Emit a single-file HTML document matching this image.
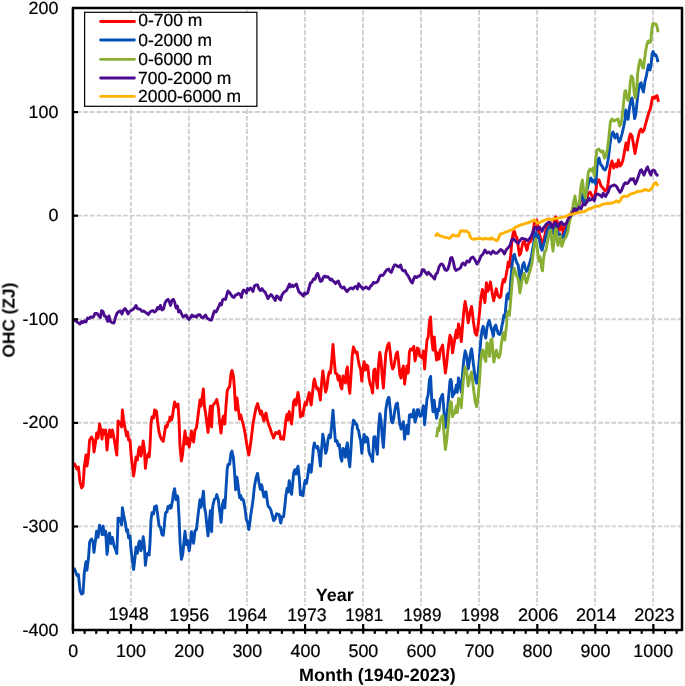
<!DOCTYPE html>
<html><head><meta charset="utf-8"><title>OHC</title>
<style>
html,body{margin:0;padding:0;background:#fff;}
body{width:685px;height:686px;overflow:hidden;font-family:"Liberation Sans",sans-serif;}
svg{display:block}
text{font-family:"Liberation Sans",sans-serif;fill:#000;text-rendering:geometricPrecision}
.tx{filter:grayscale(1)}
.r{stroke:#000;stroke-width:.22px}
.t{font-size:16.3px}
.b{font-size:15.6px;font-weight:bold}
.ser{fill:none;stroke-width:2.9;stroke-linejoin:round;stroke-linecap:butt}
</style></head><body>
<svg width="685" height="686" viewBox="0 0 685 686">
<rect width="685" height="686" fill="#fff"/>
<g stroke="#d0d0d0" stroke-width="1.9" stroke-dasharray="4.8 1.8" fill="none">
<line x1="130.84" y1="8.1" x2="130.84" y2="630.0" stroke-dashoffset="4.4"/>
<line x1="188.87" y1="8.1" x2="188.87" y2="630.0" stroke-dashoffset="4.4"/>
<line x1="246.91" y1="8.1" x2="246.91" y2="630.0" stroke-dashoffset="4.4"/>
<line x1="304.94" y1="8.1" x2="304.94" y2="630.0" stroke-dashoffset="4.4"/>
<line x1="362.98" y1="8.1" x2="362.98" y2="630.0" stroke-dashoffset="4.4"/>
<line x1="421.01" y1="8.1" x2="421.01" y2="630.0" stroke-dashoffset="4.4"/>
<line x1="479.05" y1="8.1" x2="479.05" y2="630.0" stroke-dashoffset="4.4"/>
<line x1="537.08" y1="8.1" x2="537.08" y2="630.0" stroke-dashoffset="4.4"/>
<line x1="595.12" y1="8.1" x2="595.12" y2="630.0" stroke-dashoffset="4.4"/>
<line x1="653.15" y1="8.1" x2="653.15" y2="630.0" stroke-dashoffset="4.4"/>
<line x1="72.9" y1="112.00" x2="682.0" y2="112.00" stroke-dashoffset="2.7"/>
<line x1="72.9" y1="215.60" x2="682.0" y2="215.60" stroke-dashoffset="2.7"/>
<line x1="72.9" y1="319.20" x2="682.0" y2="319.20" stroke-dashoffset="2.7"/>
<line x1="72.9" y1="422.80" x2="682.0" y2="422.80" stroke-dashoffset="2.7"/>
<line x1="72.9" y1="526.40" x2="682.0" y2="526.40" stroke-dashoffset="2.7"/>
</g>
<rect x="100" y="605.8" width="581" height="18" fill="#fff"/>
<path class="ser" stroke="#ff0000" d="M74.0 463.0 L77.0 469.0 L78.4 467.0 L80.0 482.0 L81.6 488.0 L83.0 486.0 L84.4 466.0 L86.0 455.0 L87.0 466.0 L88.4 456.0 L89.6 440.0 L91.6 437.0 L93.0 440.0 L94.0 452.0 L95.6 442.0 L96.6 433.0 L98.0 438.0 L99.6 424.0 L101.0 430.0 L102.0 439.0 L103.0 430.0 L104.4 434.0 L105.6 430.0 L107.0 450.0 L108.4 436.0 L109.6 430.0 L111.0 437.0 L112.4 430.0 L114.0 438.0 L115.6 448.0 L116.8 455.0 L117.6 436.0 L118.0 421.0 L120.0 423.0 L121.6 427.0 L122.4 410.0 L123.6 420.0 L125.0 428.0 L126.6 436.0 L127.6 432.0 L128.6 440.0 L130.0 440.0 L131.0 454.0 L132.4 466.0 L133.6 476.0 L135.0 466.0 L136.0 457.0 L137.4 460.0 L138.6 450.0 L139.6 447.0 L141.0 456.0 L142.4 448.0 L143.2 441.0 L144.4 450.0 L145.4 468.4 L146.6 458.0 L148.0 454.0 L149.2 457.0 L150.0 446.0 L151.0 424.0 L152.0 417.0 L153.6 418.0 L154.6 410.0 L156.4 411.0 L157.6 422.0 L159.0 432.0 L160.4 437.0 L162.0 440.0 L163.2 441.4 L164.4 434.0 L165.6 426.0 L167.0 427.0 L168.0 422.4 L169.4 421.0 L170.0 417.0 L171.4 420.0 L172.4 417.0 L173.6 408.0 L174.6 402.0 L176.0 407.0 L177.0 406.0 L178.0 404.0 L179.0 420.0 L180.0 446.0 L181.4 461.0 L182.6 454.0 L184.0 440.0 L185.0 431.0 L186.4 444.0 L187.6 438.0 L189.2 447.0 L190.6 439.0 L191.4 431.0 L192.6 438.0 L193.6 442.0 L195.0 430.0 L196.4 428.0 L198.0 416.0 L200.0 400.0 L201.0 406.0 L202.0 399.0 L203.4 389.0 L204.4 406.0 L205.6 413.0 L207.0 424.0 L208.0 432.4 L209.4 416.0 L210.4 406.0 L211.6 427.0 L212.6 406.0 L214.0 404.0 L215.6 402.0 L216.8 399.4 L218.4 408.0 L219.6 422.0 L221.0 433.0 L222.4 420.0 L223.6 416.0 L224.8 424.0 L226.0 406.0 L227.2 391.0 L228.4 388.0 L229.6 387.0 L231.0 374.0 L232.0 370.4 L233.4 376.0 L234.4 388.0 L235.6 410.0 L237.0 398.0 L238.4 410.0 L239.6 419.0 L240.8 415.0 L242.0 420.0 L243.6 426.0 L245.2 434.0 L246.4 442.0 L247.6 449.0 L248.8 455.0 L250.0 448.0 L251.6 436.0 L253.0 424.0 L254.4 416.0 L256.0 408.0 L257.6 403.6 L259.0 409.0 L260.4 414.0 L261.6 411.0 L262.8 417.0 L264.0 421.0 L265.2 415.0 L266.0 413.0 L267.2 419.0 L268.4 424.0 L270.0 428.0 L271.6 433.0 L273.6 438.0 L275.6 432.4 L277.6 433.6 L279.2 431.0 L280.8 439.0 L282.0 437.0 L283.6 439.4 L284.8 430.0 L286.0 419.0 L287.0 414.4 L288.0 420.0 L289.2 411.4 L290.4 419.0 L291.6 424.0 L292.6 414.0 L293.6 402.0 L294.8 399.6 L296.0 405.0 L297.0 398.0 L298.0 392.4 L299.2 400.0 L300.4 417.0 L301.6 413.0 L302.8 415.6 L304.0 408.0 L305.2 402.4 L306.4 405.0 L307.6 399.0 L309.2 392.6 L310.4 400.0 L311.2 405.0 L312.4 394.0 L313.6 383.0 L314.4 379.0 L315.6 384.0 L316.8 389.0 L318.0 388.0 L319.2 393.0 L320.4 400.0 L321.6 383.0 L322.8 371.0 L324.0 380.0 L325.6 392.0 L326.8 388.0 L328.0 378.0 L329.2 372.0 L330.4 373.0 L331.6 362.0 L333.0 344.4 L334.2 360.0 L335.4 373.0 L337.0 374.0 L338.2 380.0 L339.4 376.0 L340.6 386.0 L341.8 389.0 L343.0 376.0 L344.2 378.0 L345.4 383.0 L346.6 370.0 L347.4 367.0 L348.6 384.0 L349.8 393.4 L351.0 376.0 L352.2 356.0 L353.4 347.0 L354.6 350.0 L355.8 353.0 L357.0 352.0 L358.2 360.0 L359.4 366.0 L360.6 369.0 L361.8 381.0 L363.0 368.0 L364.2 361.6 L365.4 370.0 L366.6 365.0 L367.8 366.0 L369.0 378.0 L370.2 384.0 L371.4 387.0 L372.6 393.0 L373.8 370.0 L375.0 369.0 L376.2 380.0 L377.4 388.0 L378.6 364.0 L379.8 352.4 L381.0 360.0 L382.2 376.0 L383.4 388.0 L384.6 370.0 L385.8 354.0 L387.4 346.0 L389.0 343.0 L390.2 352.0 L391.4 364.0 L392.6 369.0 L393.8 367.0 L395.0 360.0 L396.2 354.0 L397.4 352.0 L398.6 362.0 L399.8 374.0 L401.0 378.0 L402.2 370.0 L403.4 366.0 L404.6 384.0 L405.8 374.0 L407.0 366.0 L408.2 373.0 L409.4 352.0 L410.6 349.0 L411.8 350.0 L413.0 348.0 L413.8 346.4 L415.0 361.0 L416.2 356.0 L417.4 348.0 L418.6 349.0 L419.8 356.0 L421.0 357.0 L422.2 358.0 L423.4 351.0 L424.6 369.0 L425.8 354.0 L427.0 340.0 L428.2 337.0 L429.4 322.0 L430.6 317.0 L431.8 340.0 L433.0 350.0 L434.2 337.0 L435.4 350.0 L436.6 360.0 L437.8 353.0 L439.0 359.0 L440.2 350.0 L441.4 348.0 L442.6 345.0 L443.8 358.0 L445.4 373.0 L446.6 364.0 L447.8 352.0 L449.0 342.0 L450.0 335.3 L451.3 338.4 L452.5 352.9 L453.8 345.3 L455.0 337.8 L456.3 330.3 L457.3 337.8 L458.5 324.0 L459.8 329.0 L461.3 341.6 L462.6 325.2 L463.8 311.4 L465.1 301.4 L466.3 307.7 L468.2 322.7 L470.1 311.4 L471.6 306.4 L473.2 320.2 L475.1 332.8 L476.6 335.3 L478.2 325.2 L479.5 312.7 L480.8 298.9 L482.4 289.5 L483.6 296.4 L484.9 302.6 L486.4 282.6 L487.7 291.3 L488.9 288.8 L490.4 281.9 L492.1 292.6 L493.7 300.8 L495.2 293.9 L496.2 288.8 L497.7 295.1 L499.6 297.6 L500.8 296.4 L502.1 285.1 L503.4 279.4 L504.6 281.9 L505.9 276.3 L507.1 270.0 L508.2 262.1 L509.4 266.5 L510.7 255.2 L511.9 241.4 L513.2 232.6 L514.5 231.4 L515.7 236.4 L517.0 237.6 L518.2 246.4 L519.5 255.2 L520.7 253.3 L522.0 246.4 L523.2 242.0 L524.5 241.4 L525.8 246.4 L527.0 250.2 L528.3 243.9 L529.5 242.0 L530.8 241.4 L532.0 237.6 L533.3 230.1 L534.5 222.6 L535.8 220.7 L536.7 220.1 L537.7 226.3 L538.9 232.0 L540.2 236.4 L541.5 242.7 L542.7 246.4 L544.0 238.9 L545.2 233.9 L546.5 227.0 L547.7 224.5 L549.0 222.6 L550.2 224.5 L551.5 227.0 L552.8 227.6 L554.0 222.6 L555.0 217.6 L555.9 216.9 L557.1 221.3 L558.4 227.6 L559.7 230.1 L560.9 226.3 L562.2 227.6 L563.4 234.5 L564.7 228.9 L565.9 225.1 L567.2 222.6 L568.4 218.8 L569.7 216.3 L570.0 216.0 L572.0 211.0 L574.0 209.0 L576.0 211.0 L578.0 208.0 L580.0 202.0 L582.0 198.0 L584.0 204.0 L586.0 200.0 L588.0 194.0 L590.0 192.0 L592.0 196.0 L594.0 199.0 L596.0 190.0 L597.0 180.0 L599.0 180.0 L601.0 186.0 L603.0 188.0 L605.0 191.0 L607.0 189.0 L608.0 184.0 L609.0 176.0 L610.4 166.0 L612.0 161.0 L613.6 168.0 L615.6 164.0 L617.0 167.0 L618.4 160.0 L620.0 166.0 L621.6 164.0 L623.0 160.0 L624.4 152.0 L626.0 143.0 L627.6 150.0 L629.0 139.0 L630.4 134.0 L632.0 136.0 L633.6 145.0 L635.0 153.6 L636.4 146.0 L638.0 138.0 L639.6 131.0 L641.0 129.0 L642.4 132.0 L644.0 130.0 L645.6 124.0 L647.0 119.0 L648.4 114.0 L649.6 110.4 L650.3 108.8 L651.6 102.6 L652.4 97.5 L653.7 96.9 L654.8 98.3 L656.0 96.3 L657.0 95.6 L657.8 98.8 L658.5 101.9"/>
<path class="ser" stroke="#044eb6" d="M74.0 567.7 L76.0 572.7 L77.0 575.5 L78.0 574.9 L78.4 574.6 L80.0 590.7 L81.6 594.1 L83.0 593.3 L84.4 571.7 L86.0 561.7 L87.0 570.2 L87.6 564.4 L88.4 559.0 L89.0 551.3 L89.6 542.6 L90.4 540.5 L91.6 539.0 L92.0 540.0 L93.0 541.6 L93.6 548.5 L94.0 552.4 L95.0 543.8 L95.6 540.1 L96.6 531.1 L97.0 532.5 L98.0 537.4 L99.0 530.0 L99.6 525.3 L100.4 529.5 L101.0 528.7 L101.6 530.7 L102.0 534.5 L103.0 526.1 L104.4 534.7 L105.6 531.2 L106.0 537.0 L107.0 554.3 L107.6 550.1 L108.4 539.0 L109.0 533.7 L109.6 533.0 L110.4 540.1 L111.0 543.5 L112.0 539.3 L112.4 537.4 L114.0 545.7 L115.6 549.7 L116.8 553.6 L117.0 548.3 L117.6 533.5 L118.0 518.1 L119.0 518.1 L120.0 518.8 L120.4 519.7 L121.6 525.0 L122.0 517.2 L122.4 507.7 L123.6 514.7 L125.0 521.3 L126.6 531.3 L127.6 529.7 L128.0 533.9 L128.6 537.7 L129.6 536.1 L130.0 535.9 L131.0 549.3 L132.4 560.5 L133.0 565.1 L133.6 569.5 L134.4 563.0 L135.0 557.7 L136.0 547.1 L137.4 553.3 L138.6 543.6 L139.0 542.5 L139.6 540.9 L140.4 546.2 L141.0 550.8 L142.0 546.4 L142.4 544.0 L143.2 536.8 L143.6 539.7 L144.4 546.3 L145.0 557.7 L145.4 565.3 L146.6 555.7 L148.0 552.9 L148.4 554.3 L149.2 555.0 L150.0 542.7 L151.0 520.1 L151.6 515.5 L152.0 512.6 L153.0 512.9 L153.6 513.9 L154.4 508.3 L154.6 506.6 L156.0 506.5 L156.4 505.8 L157.6 514.1 L159.0 525.7 L160.4 527.1 L162.0 534.7 L163.2 535.3 L163.6 532.6 L164.4 524.3 L165.0 517.7 L165.6 512.7 L166.4 511.9 L167.0 511.9 L168.0 506.5 L169.4 507.7 L170.0 505.4 L170.6 508.4 L171.4 507.0 L172.0 502.9 L172.4 501.5 L173.4 493.6 L173.6 492.5 L174.6 488.7 L176.0 499.7 L177.0 497.3 L177.4 495.9 L178.0 497.7 L178.6 510.3 L179.0 516.3 L180.0 541.3 L181.4 559.3 L181.6 558.5 L182.6 554.8 L183.0 551.7 L184.0 541.0 L184.4 537.1 L185.0 531.3 L186.0 540.0 L186.4 544.5 L187.6 540.7 L189.0 550.0 L189.2 550.8 L190.6 541.1 L191.4 531.7 L192.0 534.2 L192.6 538.3 L193.6 543.3 L195.0 530.7 L196.4 529.7 L198.0 515.7 L199.6 502.5 L200.0 499.7 L201.0 507.2 L201.6 503.9 L202.0 501.3 L203.0 494.6 L203.4 491.1 L204.4 506.7 L205.6 512.7 L207.0 526.7 L208.0 535.8 L208.4 531.4 L209.4 520.3 L210.0 514.7 L210.4 510.7 L211.6 531.7 L212.6 507.1 L213.0 505.1 L214.0 500.8 L214.4 499.2 L215.6 498.4 L216.0 497.8 L216.8 494.6 L217.6 497.4 L218.4 500.0 L219.0 505.7 L219.6 511.1 L220.0 513.2 L221.0 522.2 L221.4 519.0 L222.4 505.5 L222.6 504.0 L223.6 500.0 L224.0 502.4 L224.8 507.9 L225.6 496.1 L226.0 488.6 L227.0 472.2 L227.2 469.1 L228.0 464.7 L228.4 464.1 L229.6 464.3 L231.0 453.3 L232.0 451.1 L232.4 453.3 L233.4 457.8 L234.0 465.3 L234.4 469.5 L235.6 489.7 L237.0 477.3 L238.4 488.1 L239.6 497.5 L240.0 496.4 L240.8 495.6 L241.4 499.6 L242.0 499.4 L242.6 498.9 L243.6 500.7 L245.0 508.7 L245.2 510.0 L246.4 519.7 L247.6 522.3 L248.8 529.5 L249.0 528.5 L250.0 521.3 L250.4 517.7 L251.6 509.7 L253.0 500.1 L254.4 486.7 L256.0 477.7 L257.6 473.3 L259.0 482.7 L260.4 489.3 L261.6 484.8 L262.0 486.3 L262.8 491.5 L263.6 495.4 L264.0 497.0 L265.0 492.7 L265.2 492.1 L266.0 491.8 L266.4 494.7 L267.2 500.5 L268.0 505.6 L268.4 506.7 L269.6 507.7 L270.0 508.3 L271.0 510.4 L271.6 512.9 L272.4 515.7 L273.6 520.7 L274.0 520.2 L275.2 518.8 L275.6 516.4 L276.6 513.7 L277.6 514.7 L278.0 514.2 L279.2 514.4 L279.4 515.7 L280.6 522.7 L280.8 523.0 L282.0 516.7 L283.6 516.7 L284.8 506.3 L285.0 504.3 L286.0 494.5 L286.4 492.5 L287.0 488.5 L288.0 492.1 L289.2 480.6 L289.4 481.4 L290.4 490.2 L290.6 491.5 L291.6 494.3 L292.0 489.7 L292.6 484.4 L293.4 475.7 L293.6 473.2 L294.8 469.8 L295.0 470.6 L296.0 474.1 L296.4 470.9 L297.0 468.7 L297.6 467.3 L298.0 466.2 L299.0 475.4 L299.2 476.8 L300.4 494.7 L301.6 491.9 L302.0 493.2 L302.8 495.7 L303.4 492.5 L304.0 487.2 L304.6 482.9 L305.2 480.5 L306.0 482.8 L306.4 483.4 L307.6 476.7 L309.0 466.1 L309.2 464.6 L310.4 467.7 L311.2 472.2 L312.0 464.4 L312.4 459.8 L313.4 448.5 L313.6 446.7 L314.4 442.9 L315.0 445.6 L315.6 446.2 L316.4 447.0 L316.8 448.2 L317.6 446.4 L318.0 447.1 L319.0 453.9 L319.2 455.3 L320.4 466.1 L321.6 448.5 L322.0 444.3 L322.8 434.2 L323.4 437.2 L324.0 441.2 L324.6 445.2 L325.6 453.4 L326.0 452.4 L326.8 449.5 L327.6 442.6 L328.0 439.7 L329.0 435.7 L329.2 435.0 L330.4 437.7 L331.6 425.7 L333.0 410.1 L334.2 426.6 L334.4 428.9 L335.4 441.3 L337.0 440.7 L338.2 445.8 L338.4 445.0 L339.4 444.5 L339.6 446.8 L340.6 457.0 L341.0 458.7 L341.8 461.2 L342.6 453.0 L343.0 448.4 L344.0 449.4 L344.2 450.1 L345.4 457.3 L346.6 445.8 L347.0 444.8 L347.4 442.8 L348.6 458.3 L349.8 466.7 L350.0 463.6 L351.0 448.8 L351.4 442.0 L352.2 429.2 L353.0 423.7 L353.4 420.1 L354.4 421.2 L354.6 421.6 L355.8 424.2 L356.0 423.9 L357.0 425.0 L357.4 428.4 L358.2 430.1 L358.6 430.3 L359.4 435.7 L360.0 438.2 L360.6 440.1 L361.4 448.7 L361.8 453.2 L363.0 441.7 L364.2 434.4 L364.4 435.7 L365.4 442.1 L366.0 439.2 L366.6 437.1 L367.4 438.4 L367.8 438.9 L369.0 451.7 L370.2 455.4 L370.6 455.7 L371.4 457.1 L372.0 459.7 L372.6 461.6 L373.4 444.8 L373.8 437.2 L375.0 436.7 L376.2 447.2 L376.6 449.8 L377.4 454.3 L378.0 441.7 L378.6 428.0 L379.4 418.0 L379.8 413.6 L381.0 419.7 L382.2 436.2 L382.6 440.3 L383.4 447.4 L384.0 437.7 L384.6 427.7 L385.4 415.6 L385.8 409.8 L387.0 402.3 L387.4 400.2 L388.6 397.4 L389.0 397.4 L390.0 406.8 L390.2 408.4 L391.4 421.1 L392.6 422.8 L393.0 421.0 L393.8 418.0 L394.4 413.2 L395.0 409.7 L396.0 404.7 L396.2 403.9 L397.4 403.1 L398.6 413.6 L399.0 417.7 L399.8 424.7 L400.6 426.4 L401.0 429.0 L402.0 425.6 L402.2 424.5 L403.4 421.7 L404.6 439.2 L405.0 435.8 L405.8 430.9 L406.4 428.3 L407.0 425.1 L408.0 432.1 L408.2 433.7 L409.4 415.1 L410.6 414.5 L411.0 415.6 L411.8 417.1 L412.4 416.7 L413.0 413.7 L413.6 410.5 L413.8 409.7 L415.0 422.1 L416.2 418.0 L416.6 415.6 L417.4 409.6 L418.0 409.6 L418.6 409.9 L419.4 414.4 L419.8 416.3 L421.0 416.1 L422.2 413.0 L422.4 411.1 L423.4 405.6 L424.0 414.7 L424.6 424.7 L425.4 416.1 L425.8 411.6 L427.0 399.1 L428.2 394.4 L428.4 391.6 L429.4 380.1 L430.0 378.2 L430.6 376.4 L431.4 392.6 L431.8 400.7 L433.0 411.7 L434.2 400.2 L434.6 405.0 L435.4 410.8 L436.0 413.7 L436.6 418.3 L437.4 413.0 L437.8 409.2 L439.0 410.7 L440.2 399.7 L440.6 398.4 L441.4 396.9 L442.0 395.2 L442.6 394.4 L443.4 404.0 L443.8 409.3 L445.0 423.6 L445.4 427.5 L446.6 419.1 L447.8 405.9 L448.0 404.0 L449.0 392.1 L449.4 388.0 L450.0 381.0 L450.6 379.4 L451.3 380.9 L452.0 389.2 L452.5 396.8 L453.4 394.3 L453.8 394.0 L454.6 393.0 L455.0 391.2 L456.0 387.1 L456.3 385.2 L457.3 392.2 L457.4 391.0 L458.5 377.9 L459.0 379.6 L459.8 382.0 L460.6 388.0 L461.3 392.1 L462.0 381.5 L462.6 373.3 L463.0 368.3 L463.8 359.9 L465.0 351.9 L465.1 350.9 L466.3 354.8 L467.0 358.9 L468.2 369.0 L469.0 364.6 L470.1 355.9 L471.0 351.1 L471.6 348.8 L473.0 360.2 L473.2 362.2 L475.0 376.8 L475.1 377.7 L476.6 383.2 L477.0 381.5 L478.2 372.1 L479.0 363.2 L479.5 357.2 L480.7 341.3 L482.0 330.0 L483.2 326.3 L484.5 333.8 L485.8 338.2 L487.0 327.5 L488.3 322.5 L489.3 320.6 L490.1 323.8 L491.0 327.5 L492.0 330.7 L493.3 336.3 L494.5 327.5 L495.8 325.0 L497.1 330.0 L498.3 333.8 L499.6 334.4 L500.8 332.6 L502.1 325.0 L503.1 320.6 L503.8 315.3 L504.8 317.2 L505.7 307.8 L506.9 295.2 L508.2 293.4 L509.4 299.0 L510.7 281.4 L511.9 266.4 L513.2 256.3 L514.5 254.4 L515.7 259.5 L517.0 263.2 L518.2 265.1 L519.5 275.8 L520.4 280.8 L521.4 272.6 L522.6 265.1 L523.9 262.6 L525.1 267.6 L526.4 271.4 L527.6 270.1 L528.9 265.1 L530.2 261.3 L531.4 256.3 L532.7 248.8 L533.9 242.5 L534.5 235.1 L535.8 232.6 L537.1 237.6 L538.3 235.1 L539.6 240.2 L540.8 247.7 L542.1 250.2 L543.3 245.2 L544.6 241.4 L545.8 236.4 L547.1 231.4 L548.4 227.6 L549.6 226.3 L550.9 228.2 L552.1 232.0 L553.4 233.9 L554.6 228.9 L555.9 226.3 L557.1 230.1 L558.4 234.5 L559.7 233.9 L560.9 236.4 L562.2 237.6 L563.4 237.0 L564.7 232.6 L565.9 230.1 L567.2 227.0 L568.4 222.6 L569.7 218.8 L571.0 215.7 L573.0 210.0 L575.0 208.0 L577.0 211.0 L579.0 204.0 L581.0 198.0 L582.4 194.0 L584.0 202.0 L586.0 194.0 L588.0 186.0 L589.6 179.0 L591.0 178.0 L592.4 182.0 L594.0 180.0 L595.6 184.0 L596.4 176.0 L597.6 160.0 L599.0 158.0 L600.4 164.0 L602.0 166.0 L603.6 169.0 L605.2 170.0 L607.0 166.0 L608.4 158.0 L610.0 144.0 L611.6 134.0 L613.0 132.0 L615.0 138.0 L617.0 134.0 L619.0 142.0 L620.4 140.0 L622.0 134.0 L623.6 127.0 L625.0 120.0 L625.7 110.0 L626.9 114.3 L628.1 119.4 L629.5 107.5 L631.2 98.9 L632.1 98.1 L633.2 105.8 L634.6 118.6 L635.8 114.3 L637.2 100.6 L638.4 90.4 L639.7 84.4 L641.1 82.7 L642.3 88.7 L643.5 92.1 L644.9 81.9 L646.2 76.7 L647.4 69.9 L648.6 64.8 L650.0 69.9 L651.2 63.9 L652.0 54.5 L653.1 51.5 L654.3 55.4 L655.5 54.5 L656.8 57.1 L658.0 62.2"/>
<path class="ser" stroke="#88ae34" d="M436.6 437.3 L437.4 431.5 L437.8 428.1 L439.0 430.7 L440.2 420.2 L440.6 419.0 L441.4 417.7 L442.0 416.2 L442.6 415.6 L443.4 425.5 L443.8 430.9 L445.0 445.5 L445.4 449.5 L446.6 441.4 L447.8 428.5 L448.0 426.7 L449.0 415.1 L449.4 410.8 L450.0 403.6 L450.6 401.8 L451.3 402.1 L452.0 409.4 L452.5 416.7 L453.4 413.9 L453.8 413.9 L454.6 413.5 L455.0 411.8 L456.0 407.9 L456.3 405.9 L457.3 412.5 L457.4 411.4 L458.5 398.5 L459.0 399.1 L459.8 399.3 L460.6 403.9 L461.3 407.7 L462.0 397.0 L462.6 388.9 L463.0 384.0 L463.8 375.7 L465.0 367.9 L465.1 366.9 L466.3 370.4 L467.0 374.9 L468.2 386.0 L469.0 382.3 L470.1 376.9 L471.0 374.0 L471.6 372.0 L473.0 383.9 L473.2 386.0 L475.0 400.5 L475.1 401.3 L476.6 406.6 L477.0 404.9 L478.2 395.6 L479.0 386.4 L479.5 380.2 L480.7 361.4 L482.0 351.4 L483.2 350.1 L484.5 357.7 L485.8 361.4 L487.0 342.6 L488.3 345.1 L489.5 356.4 L490.8 340.1 L492.0 338.8 L493.3 357.7 L493.9 362.1 L495.2 353.9 L496.4 350.1 L497.7 356.4 L498.9 357.7 L500.2 353.9 L501.4 343.9 L502.7 335.1 L504.0 332.6 L504.8 340.1 L505.8 331.3 L506.6 325.0 L506.9 315.3 L508.2 311.6 L509.4 315.3 L510.7 300.3 L511.9 285.2 L513.2 272.6 L514.1 268.2 L515.7 272.8 L517.0 276.6 L518.2 279.1 L519.5 289.1 L519.9 292.9 L520.7 288.5 L522.0 280.3 L523.2 275.1 L524.3 273.4 L525.1 278.4 L526.4 283.1 L527.4 280.3 L528.9 274.1 L530.2 270.3 L532.0 262.8 L533.3 252.7 L534.5 243.3 L535.8 238.9 L537.1 247.1 L538.1 256.5 L538.9 261.2 L539.9 256.7 L540.8 260.2 L541.7 269.0 L542.5 270.8 L543.3 260.9 L544.6 252.1 L545.8 250.8 L547.1 244.2 L548.4 237.0 L549.6 231.4 L550.9 230.1 L552.1 244.5 L553.0 251.1 L554.0 240.2 L555.3 230.1 L556.3 228.2 L557.1 241.4 L558.0 245.4 L559.3 239.5 L560.5 236.4 L561.8 246.4 L563.0 242.7 L564.3 239.1 L565.6 237.6 L566.8 235.1 L568.1 230.1 L569.3 222.6 L571.0 215.0 L572.0 212.0 L573.6 202.0 L575.0 196.0 L576.4 206.0 L578.0 210.0 L579.6 200.0 L581.0 186.0 L582.4 180.0 L584.0 194.0 L585.6 198.0 L587.0 184.0 L588.4 172.0 L590.0 169.0 L591.6 171.0 L593.0 168.0 L594.4 176.0 L595.6 160.0 L597.0 150.0 L599.0 149.0 L601.0 152.0 L603.0 151.0 L604.4 158.0 L606.0 156.0 L607.6 148.0 L609.0 136.0 L610.4 122.0 L612.0 119.0 L614.0 121.0 L616.0 120.0 L618.0 119.0 L619.6 126.0 L621.0 124.0 L621.8 119.4 L623.5 104.1 L624.7 92.1 L625.7 90.4 L626.9 97.2 L628.1 100.6 L629.1 97.2 L630.3 81.9 L631.5 75.9 L632.9 78.4 L634.3 93.8 L635.5 98.1 L636.7 88.7 L637.7 73.3 L638.9 64.8 L640.1 59.7 L641.1 61.4 L642.3 67.3 L643.5 68.2 L644.5 59.7 L645.7 51.1 L646.9 44.3 L648.3 40.9 L649.6 42.6 L650.8 41.7 L651.7 30.6 L652.9 23.4 L654.3 23.8 L656.0 24.1 L657.2 27.2 L658.0 32.3"/>
<path class="ser" stroke="#4b0b8e" d="M74.0 320.0 L76.0 321.0 L78.0 322.6 L80.0 324.0 L81.6 321.4 L83.0 322.6 L84.4 321.0 L86.0 322.0 L87.6 318.0 L89.0 318.6 L90.4 317.0 L92.0 317.4 L93.6 316.6 L95.0 313.4 L97.0 313.4 L99.0 316.0 L100.4 317.4 L101.6 310.6 L103.0 311.4 L104.4 316.0 L106.0 316.6 L107.6 321.4 L109.0 316.0 L110.4 321.4 L112.0 322.6 L114.0 323.0 L115.6 317.0 L117.0 313.4 L119.0 311.4 L120.4 311.0 L122.0 314.0 L123.6 310.0 L125.0 308.6 L126.6 310.6 L128.0 314.0 L129.6 311.4 L131.0 310.6 L133.0 309.4 L134.4 308.0 L136.0 305.4 L137.4 308.6 L139.0 309.0 L140.4 309.4 L142.0 311.4 L143.6 311.0 L145.0 312.0 L146.6 313.0 L148.4 314.6 L150.0 312.0 L151.6 311.0 L153.0 310.6 L154.4 312.0 L156.0 311.0 L157.6 307.4 L159.0 309.0 L160.4 305.4 L162.0 310.0 L163.6 309.0 L165.0 303.0 L166.4 300.6 L168.0 299.4 L169.4 302.0 L170.6 305.4 L172.0 300.0 L173.4 299.4 L174.6 302.0 L176.0 308.0 L177.4 306.0 L178.6 312.0 L180.0 310.6 L181.6 314.0 L183.0 317.0 L184.4 316.0 L186.0 315.0 L187.6 318.0 L189.0 319.4 L190.6 317.4 L192.0 315.0 L193.6 316.6 L195.0 316.0 L196.4 317.0 L198.0 315.0 L199.6 314.6 L200.0 315.0 L201.6 317.4 L203.0 318.0 L204.4 316.0 L205.6 315.0 L207.0 318.0 L208.4 319.0 L210.0 320.0 L211.6 320.0 L213.0 315.0 L214.4 311.0 L216.0 312.0 L217.6 309.0 L219.0 306.0 L220.0 303.4 L221.4 305.0 L222.6 300.0 L224.0 299.0 L225.6 299.4 L227.0 294.0 L228.0 291.0 L229.6 292.6 L231.0 294.6 L232.4 296.6 L234.0 297.4 L235.6 295.0 L237.0 294.6 L238.4 293.4 L240.0 294.0 L241.4 297.4 L242.6 292.0 L243.6 290.0 L245.0 291.0 L246.4 293.0 L247.6 288.6 L249.0 290.0 L250.4 288.0 L251.6 289.0 L253.0 291.4 L254.4 286.0 L256.0 285.0 L257.6 285.0 L259.0 289.0 L260.4 290.6 L262.0 288.6 L263.6 291.0 L265.0 292.0 L266.4 295.0 L268.0 298.6 L269.6 296.0 L271.0 294.6 L272.4 296.0 L274.0 298.6 L275.2 300.6 L276.6 296.0 L278.0 296.6 L279.4 299.0 L280.6 300.0 L282.0 295.0 L283.6 292.6 L285.0 291.4 L286.4 290.6 L288.0 287.4 L289.4 284.0 L290.6 287.0 L292.0 285.0 L293.4 286.6 L295.0 285.4 L296.4 284.0 L297.6 288.0 L299.0 292.0 L300.4 293.0 L302.0 294.6 L303.4 296.0 L304.6 293.0 L306.0 294.0 L307.6 293.0 L309.0 288.0 L310.4 283.0 L312.0 282.0 L313.4 279.0 L315.0 279.4 L316.4 275.0 L317.6 273.4 L319.0 277.0 L320.4 281.4 L322.0 280.6 L323.4 277.0 L324.6 276.0 L326.0 277.0 L327.6 276.6 L329.0 278.0 L330.4 280.0 L331.6 279.0 L333.0 281.0 L334.4 282.0 L335.4 283.6 L337.0 282.0 L338.4 281.0 L339.6 284.4 L341.0 287.0 L342.6 288.0 L344.0 287.0 L345.4 289.6 L347.0 291.6 L348.6 289.6 L350.0 288.4 L351.4 288.0 L353.0 289.0 L354.4 287.0 L356.0 286.4 L357.4 289.0 L358.6 283.6 L360.0 286.0 L361.4 287.0 L363.0 289.0 L364.4 288.0 L366.0 287.0 L367.4 288.0 L369.0 289.0 L370.6 286.0 L372.0 285.0 L373.4 282.4 L375.0 283.0 L376.6 282.4 L378.0 281.0 L379.4 277.0 L381.0 275.0 L382.6 275.6 L384.0 274.0 L385.4 271.6 L387.0 269.6 L388.6 269.0 L390.0 271.6 L391.4 272.4 L393.0 268.0 L394.4 265.0 L396.0 265.0 L397.4 266.4 L399.0 267.0 L400.6 265.0 L402.0 269.6 L403.4 271.0 L405.0 270.4 L406.4 273.6 L408.0 275.6 L409.4 278.4 L411.0 281.6 L412.4 283.0 L413.6 279.0 L415.0 276.4 L416.6 277.6 L418.0 276.4 L419.4 276.0 L421.0 274.4 L422.4 269.6 L424.0 270.0 L425.4 272.4 L427.0 274.4 L428.4 272.4 L430.0 274.0 L431.4 275.6 L433.0 277.0 L434.6 279.0 L436.0 274.0 L437.4 273.0 L439.0 267.0 L440.6 264.4 L442.0 264.0 L443.4 265.6 L445.0 269.6 L446.6 270.4 L448.0 269.0 L449.4 264.0 L450.6 258.0 L452.0 257.6 L453.4 262.0 L454.6 268.0 L456.0 270.4 L457.4 269.6 L459.0 269.0 L460.6 267.6 L462.0 264.0 L463.0 263.0 L465.0 265.0 L467.0 261.0 L469.0 262.0 L471.0 258.0 L473.0 257.0 L475.0 260.0 L477.0 264.0 L479.0 261.0 L481.0 256.0 L483.0 254.0 L485.0 250.0 L487.0 253.0 L489.0 252.0 L491.0 254.0 L493.0 251.0 L495.0 253.0 L496.9 253.3 L498.8 251.5 L500.6 249.6 L502.5 250.8 L504.4 254.0 L506.3 249.6 L508.2 247.7 L510.1 245.2 L511.9 239.5 L513.8 238.9 L515.7 241.4 L518.2 243.3 L520.1 240.2 L522.0 238.3 L523.9 238.9 L525.8 239.5 L527.6 240.8 L529.5 238.9 L531.4 235.8 L533.3 231.4 L534.5 227.6 L535.8 227.0 L537.1 230.1 L538.3 228.2 L539.6 227.0 L540.8 229.5 L542.1 231.4 L543.3 228.2 L545.2 225.7 L546.5 223.8 L547.7 223.2 L549.0 221.9 L550.2 222.6 L551.5 225.7 L552.8 227.6 L554.0 223.8 L555.3 222.6 L556.5 223.8 L557.8 227.0 L559.0 225.1 L560.3 222.6 L561.5 221.9 L562.8 224.5 L564.1 225.1 L565.3 223.8 L566.6 223.2 L567.8 220.1 L569.1 217.6 L570.3 216.3 L571.6 214.4 L572.8 212.5 L574.0 209.0 L577.0 210.0 L579.0 207.0 L581.0 209.0 L583.0 204.0 L585.0 205.0 L587.0 202.0 L589.0 198.0 L590.0 200.2 L591.9 199.5 L593.1 198.3 L594.4 200.8 L595.6 195.2 L596.9 193.9 L598.8 194.5 L600.7 195.8 L601.9 197.0 L603.2 193.3 L604.4 195.2 L605.7 196.4 L606.9 193.9 L608.2 192.0 L609.5 188.2 L610.7 186.4 L612.6 185.7 L614.5 184.9 L615.7 185.7 L617.0 187.0 L618.2 189.5 L620.1 192.4 L621.4 190.8 L622.6 187.6 L623.9 184.5 L625.2 182.8 L627.0 183.6 L628.3 182.6 L629.5 180.7 L630.8 178.8 L632.1 179.8 L633.3 178.6 L634.6 182.0 L635.4 183.9 L636.7 181.3 L638.0 177.6 L639.2 173.8 L640.5 170.3 L641.5 169.8 L642.7 172.6 L644.0 175.1 L645.2 171.9 L646.5 168.8 L647.5 166.9 L648.4 169.4 L649.6 172.6 L650.9 175.1 L652.1 170.7 L653.4 170.0 L654.7 170.7 L655.9 173.8 L657.2 175.1 L658.4 175.7"/>
<path class="ser" stroke="#ffb300" d="M435.1 236.4 L436.4 234.6 L437.3 233.6 L438.3 234.9 L439.5 235.6 L441.4 236.1 L443.3 236.8 L445.2 237.3 L447.1 237.7 L448.9 238.3 L450.6 237.7 L451.8 235.6 L453.3 234.8 L454.6 235.8 L455.9 236.1 L457.1 235.6 L458.4 236.1 L459.4 233.9 L460.2 231.4 L461.5 230.8 L463.4 231.0 L464.9 231.4 L466.5 230.8 L467.8 232.0 L469.0 233.0 L469.9 235.8 L470.9 238.1 L472.2 238.9 L474.1 239.3 L475.9 238.6 L477.8 238.9 L479.7 238.3 L481.6 238.7 L483.5 239.3 L484.7 238.1 L486.6 238.9 L488.5 238.6 L490.4 239.3 L491.6 237.7 L492.9 238.9 L494.8 239.6 L496.7 240.8 L497.9 239.6 L499.2 236.4 L500.4 233.9 L502.3 233.6 L504.2 232.7 L506.1 231.8 L508.0 231.4 L509.8 230.5 L511.7 229.8 L513.6 228.9 L515.0 227.6 L517.5 226.4 L520.0 225.1 L522.5 224.5 L525.0 223.6 L527.6 222.8 L530.1 222.0 L532.6 220.7 L534.5 219.8 L535.7 221.3 L537.3 223.2 L538.9 222.8 L540.7 222.0 L542.6 221.1 L544.5 220.3 L546.4 219.5 L548.3 218.8 L550.2 219.1 L552.0 219.8 L553.9 218.8 L555.8 218.6 L557.7 218.2 L559.6 217.8 L561.5 217.3 L563.3 216.9 L565.2 216.6 L567.1 215.7 L569.0 214.8 L570.9 214.4 L572.8 214.1 L574.6 213.6 L576.5 213.2 L578.4 212.6 L580.3 212.3 L582.2 211.6 L584.1 211.9 L585.9 210.7 L587.8 209.4 L589.7 208.5 L590.0 209.0 L592.5 207.7 L595.0 206.7 L597.5 206.2 L600.0 205.8 L601.9 204.6 L603.8 203.9 L605.7 203.9 L607.6 203.3 L609.5 203.7 L611.3 202.9 L613.2 202.7 L615.1 201.7 L616.6 200.8 L618.2 202.1 L619.9 201.2 L621.4 198.3 L622.9 196.7 L624.5 196.2 L626.4 196.4 L628.3 195.8 L630.2 194.1 L632.1 193.6 L633.9 193.3 L635.8 192.4 L637.5 191.1 L639.0 191.6 L640.8 191.1 L642.7 190.8 L644.6 189.5 L646.5 189.9 L648.4 190.8 L650.3 189.9 L652.1 187.6 L653.4 185.1 L654.7 183.2 L655.9 182.6 L657.2 184.5 L658.4 185.7"/>
<rect x="84.6" y="12.3" width="172.3" height="94" fill="#fff" stroke="#000" stroke-width="1.2"/>
<line x1="100.6" y1="21.5" x2="134.4" y2="21.5" stroke="#ff0000" stroke-width="2.8" stroke-linecap="round"/>
<line x1="100.6" y1="40.0" x2="134.4" y2="40.0" stroke="#044eb6" stroke-width="2.8" stroke-linecap="round"/>
<line x1="100.6" y1="59.3" x2="134.4" y2="59.3" stroke="#88ae34" stroke-width="2.8" stroke-linecap="round"/>
<line x1="100.6" y1="78.0" x2="134.4" y2="78.0" stroke="#4b0b8e" stroke-width="2.8" stroke-linecap="round"/>
<line x1="100.6" y1="96.4" x2="134.4" y2="96.4" stroke="#ffb300" stroke-width="2.8" stroke-linecap="round"/>
<rect x="72.9" y="8.1" width="609.1" height="621.9" fill="none" stroke="#000" stroke-width="2.5" stroke-linejoin="round"/>
<g stroke="#000" stroke-width="2.2">
<line x1="73.0" y1="624" x2="73.0" y2="633.8"/>
<line x1="84.6" y1="630.0" x2="84.6" y2="633.8"/>
<line x1="96.2" y1="630.0" x2="96.2" y2="633.8"/>
<line x1="107.8" y1="630.0" x2="107.8" y2="633.8"/>
<line x1="119.4" y1="630.0" x2="119.4" y2="633.8"/>
<line x1="131.0" y1="624" x2="131.0" y2="633.8"/>
<line x1="142.6" y1="630.0" x2="142.6" y2="633.8"/>
<line x1="154.2" y1="630.0" x2="154.2" y2="633.8"/>
<line x1="165.9" y1="630.0" x2="165.9" y2="633.8"/>
<line x1="177.5" y1="630.0" x2="177.5" y2="633.8"/>
<line x1="189.1" y1="624" x2="189.1" y2="633.8"/>
<line x1="200.7" y1="630.0" x2="200.7" y2="633.8"/>
<line x1="212.3" y1="630.0" x2="212.3" y2="633.8"/>
<line x1="223.9" y1="630.0" x2="223.9" y2="633.8"/>
<line x1="235.5" y1="630.0" x2="235.5" y2="633.8"/>
<line x1="247.1" y1="624" x2="247.1" y2="633.8"/>
<line x1="258.7" y1="630.0" x2="258.7" y2="633.8"/>
<line x1="270.3" y1="630.0" x2="270.3" y2="633.8"/>
<line x1="281.9" y1="630.0" x2="281.9" y2="633.8"/>
<line x1="293.5" y1="630.0" x2="293.5" y2="633.8"/>
<line x1="305.1" y1="624" x2="305.1" y2="633.8"/>
<line x1="316.7" y1="630.0" x2="316.7" y2="633.8"/>
<line x1="328.4" y1="630.0" x2="328.4" y2="633.8"/>
<line x1="340.0" y1="630.0" x2="340.0" y2="633.8"/>
<line x1="351.6" y1="630.0" x2="351.6" y2="633.8"/>
<line x1="363.2" y1="624" x2="363.2" y2="633.8"/>
<line x1="374.8" y1="630.0" x2="374.8" y2="633.8"/>
<line x1="386.4" y1="630.0" x2="386.4" y2="633.8"/>
<line x1="398.0" y1="630.0" x2="398.0" y2="633.8"/>
<line x1="409.6" y1="630.0" x2="409.6" y2="633.8"/>
<line x1="421.2" y1="624" x2="421.2" y2="633.8"/>
<line x1="432.8" y1="630.0" x2="432.8" y2="633.8"/>
<line x1="444.4" y1="630.0" x2="444.4" y2="633.8"/>
<line x1="456.0" y1="630.0" x2="456.0" y2="633.8"/>
<line x1="467.6" y1="630.0" x2="467.6" y2="633.8"/>
<line x1="479.2" y1="624" x2="479.2" y2="633.8"/>
<line x1="490.9" y1="630.0" x2="490.9" y2="633.8"/>
<line x1="502.5" y1="630.0" x2="502.5" y2="633.8"/>
<line x1="514.1" y1="630.0" x2="514.1" y2="633.8"/>
<line x1="525.7" y1="630.0" x2="525.7" y2="633.8"/>
<line x1="537.3" y1="624" x2="537.3" y2="633.8"/>
<line x1="548.9" y1="630.0" x2="548.9" y2="633.8"/>
<line x1="560.5" y1="630.0" x2="560.5" y2="633.8"/>
<line x1="572.1" y1="630.0" x2="572.1" y2="633.8"/>
<line x1="583.7" y1="630.0" x2="583.7" y2="633.8"/>
<line x1="595.3" y1="624" x2="595.3" y2="633.8"/>
<line x1="606.9" y1="630.0" x2="606.9" y2="633.8"/>
<line x1="618.5" y1="630.0" x2="618.5" y2="633.8"/>
<line x1="630.1" y1="630.0" x2="630.1" y2="633.8"/>
<line x1="641.7" y1="630.0" x2="641.7" y2="633.8"/>
<line x1="653.4" y1="624" x2="653.4" y2="633.8"/>
<line x1="665.0" y1="630.0" x2="665.0" y2="633.8"/>
<line x1="676.6" y1="630.0" x2="676.6" y2="633.8"/>
<line x1="72.9" y1="112.1" x2="78.0" y2="112.1"/>
<line x1="72.9" y1="215.7" x2="78.0" y2="215.7"/>
<line x1="72.9" y1="319.3" x2="78.0" y2="319.3"/>
<line x1="72.9" y1="422.9" x2="78.0" y2="422.9"/>
<line x1="72.9" y1="526.5" x2="78.0" y2="526.5"/>
</g>
<g class="tx"><text transform="translate(138.20,26.40) scale(0.9980,1)" font-size="17.50" class="r">0-700 m</text>
<text transform="translate(138.20,45.60) scale(0.9980,1)" font-size="17.50" class="r">0-2000 m</text>
<text transform="translate(138.20,64.70) scale(0.9980,1)" font-size="17.50" class="r">0-6000 m</text>
<text transform="translate(138.03,83.50) scale(0.9980,1)" font-size="17.50" class="r">700-2000 m</text>
<text transform="translate(138.03,102.10) scale(0.9980,1)" font-size="17.50" class="r">2000-6000 m</text>
<text transform="translate(28.52,14.00) scale(1.0110,1)" font-size="17.70" class="r">200</text>
<text transform="translate(28.52,117.60) scale(1.0110,1)" font-size="17.70" class="r">100</text>
<text transform="translate(48.38,221.20) scale(1.0110,1)" font-size="17.70" class="r">0</text>
<text transform="translate(22.53,324.80) scale(1.0110,1)" font-size="17.70" class="r">-100</text>
<text transform="translate(22.53,428.40) scale(1.0110,1)" font-size="17.70" class="r">-200</text>
<text transform="translate(22.53,532.00) scale(1.0110,1)" font-size="17.70" class="r">-300</text>
<text transform="translate(22.53,635.60) scale(1.0110,1)" font-size="17.70" class="r">-400</text>
<text transform="translate(68.24,656.50) scale(0.9930,1)" font-size="18.00" class="r">0</text>
<text transform="translate(116.04,656.50) scale(0.9930,1)" font-size="18.00" class="r">100</text>
<text transform="translate(174.30,656.50) scale(0.9930,1)" font-size="18.00" class="r">200</text>
<text transform="translate(232.42,656.50) scale(0.9930,1)" font-size="18.00" class="r">300</text>
<text transform="translate(290.59,656.50) scale(0.9930,1)" font-size="18.00" class="r">400</text>
<text transform="translate(348.49,656.50) scale(0.9930,1)" font-size="18.00" class="r">500</text>
<text transform="translate(406.44,656.50) scale(0.9930,1)" font-size="18.00" class="r">600</text>
<text transform="translate(464.48,656.50) scale(0.9930,1)" font-size="18.00" class="r">700</text>
<text transform="translate(522.56,656.50) scale(0.9930,1)" font-size="18.00" class="r">800</text>
<text transform="translate(580.59,656.50) scale(0.9930,1)" font-size="18.00" class="r">900</text>
<text transform="translate(633.35,656.50) scale(0.9930,1)" font-size="18.00" class="r">1000</text>
<text transform="translate(108.50,620.00) scale(1.0000,1)" font-size="18.10" class="r">1948</text>
<text transform="translate(169.35,620.80) scale(0.9921,1)" font-size="18.10" class="r">1956</text>
<text transform="translate(227.39,620.80) scale(0.9870,1)" font-size="18.10" class="r">1964</text>
<text transform="translate(287.23,620.80) scale(0.9790,1)" font-size="18.10" class="r">1973</text>
<text transform="translate(345.32,620.80) scale(0.9395,1)" font-size="18.10" class="r">1981</text>
<text transform="translate(403.35,620.80) scale(0.9449,1)" font-size="18.10" class="r">1989</text>
<text transform="translate(460.56,620.80) scale(0.9607,1)" font-size="18.10" class="r">1998</text>
<text transform="translate(518.05,620.80) scale(1.0000,1)" font-size="18.10" class="r">2006</text>
<text transform="translate(575.98,620.80) scale(1.0000,1)" font-size="18.10" class="r">2014</text>
<text transform="translate(634.27,620.80) scale(1.0000,1)" font-size="18.10" class="r">2023</text>
<text transform="translate(315.84,600.80) scale(1.0045,1)" font-size="17.90" font-weight="bold">Year</text>
<text transform="translate(299.03,680.70) scale(1.0031,1)" font-size="17.90" font-weight="bold">Month (1940-2023)</text>
<text transform="translate(14.50,357.59) rotate(-90) scale(1.0125,1)" font-size="17.10" font-weight="bold">OHC (ZJ)</text></g>
</svg></body></html>
